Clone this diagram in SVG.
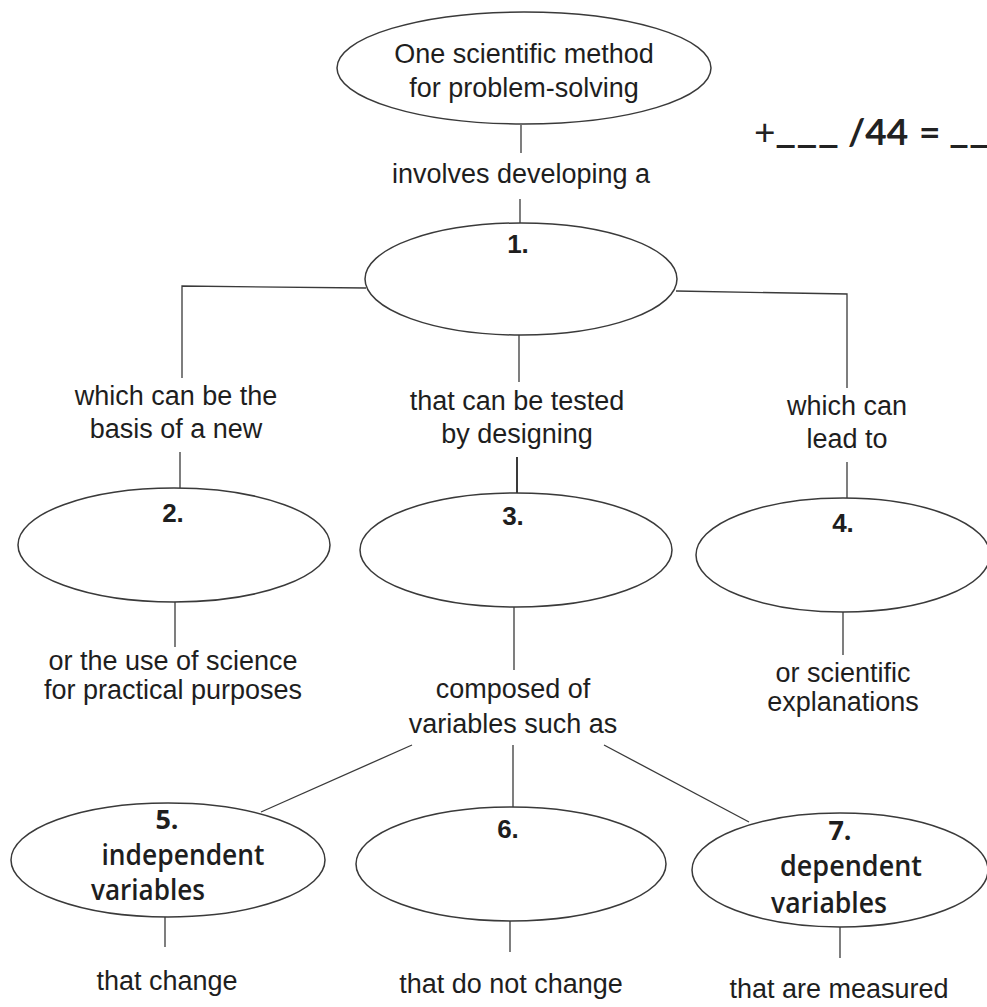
<svg xmlns="http://www.w3.org/2000/svg" width="987" height="1007" viewBox="0 0 987 1007">
<style>
  .bg { fill: #ffffff; }
  .node ellipse { fill: #ffffff; stroke: #3a3a3a; stroke-width: 1.5; }
  .conn line, .conn polyline { fill: none; stroke: #3a3a3a; stroke-width: 1.3; }
  .lbl { font-family: "Liberation Sans", Arial, sans-serif; font-size: 27px; fill: #1e1e1e; text-anchor: middle; }
  .num { font-family: "Liberation Sans", Arial, sans-serif; font-size: 26px; font-weight: bold; fill: #1e1e1e; text-anchor: middle; }
  .cal { font-family: "Open Sans", "Lato", sans-serif; font-size: 28px; font-weight: 600; fill: #1e1e1e; text-anchor: middle; }
  .calnum { font-family: "Open Sans", "Lato", sans-serif; font-size: 27px; font-weight: bold; fill: #1e1e1e; text-anchor: middle; }
  .score { font-family: "Lato", "Open Sans", sans-serif; font-size: 37px; font-weight: bold; fill: #222; }
  .plus { font-family: "Lato", "Open Sans", sans-serif; font-size: 37px; font-weight: normal; fill: #222; }
</style>
<rect class="bg" x="0" y="0" width="987" height="1007"/>

<g id="connectors" class="conn">
  <line x1="521" y1="125" x2="521" y2="153"/>
  <line x1="520" y1="199" x2="520" y2="223"/>
  <polyline points="366,288 182,286 182,378"/>
  <polyline points="676,291 847,294 847,388"/>
  <line x1="519" y1="335" x2="519" y2="382"/>
  <line x1="180" y1="452" x2="180" y2="488"/>
  <line x1="517" y1="457" x2="517" y2="493" style="stroke-width:2"/>
  <line x1="847" y1="462" x2="847" y2="498"/>
  <line x1="175" y1="602" x2="175" y2="647"/>
  <line x1="514" y1="607" x2="514" y2="670"/>
  <line x1="843" y1="612" x2="843" y2="655"/>
  <line x1="412" y1="745" x2="261" y2="812"/>
  <line x1="513" y1="745" x2="513" y2="807"/>
  <line x1="604" y1="745" x2="749" y2="822"/>
  <line x1="165" y1="917" x2="165" y2="947"/>
  <line x1="510" y1="921" x2="510" y2="952"/>
  <line x1="840" y1="927" x2="840" y2="958"/>
</g>

<g id="node-top" class="node">
  <ellipse cx="524" cy="68" rx="187" ry="56"/>
  <text class="lbl" x="524" y="63">One scientific method</text>
  <text class="lbl" x="524" y="97">for problem-solving</text>
</g>

<g id="score">
  <text class="plus" x="754" y="145">+</text>
  <text class="score" x="775" y="143" textLength="64" lengthAdjust="spacingAndGlyphs">___</text>
  <text class="score" x="848" y="145">/44</text>
  <text class="score" x="919" y="145">=</text>
  <text class="score" x="949" y="143" textLength="40" lengthAdjust="spacingAndGlyphs">__</text>
</g>

<g id="label-involves">
  <text class="lbl" x="521" y="183">involves developing a</text>
</g>

<g id="node-1" class="node">
  <ellipse cx="521" cy="279" rx="156" ry="56"/>
  <text class="num" x="518" y="253">1.</text>
</g>

<g id="label-basis">
  <text class="lbl" x="176" y="405">which can be the</text>
  <text class="lbl" x="176" y="438">basis of a new</text>
</g>
<g id="label-tested">
  <text class="lbl" x="517" y="410">that can be tested</text>
  <text class="lbl" x="517" y="443">by designing</text>
</g>
<g id="label-lead">
  <text class="lbl" x="847" y="415">which can</text>
  <text class="lbl" x="847" y="448">lead to</text>
</g>

<g id="node-2" class="node">
  <ellipse cx="174" cy="545" rx="156" ry="57"/>
  <text class="num" x="173" y="522">2.</text>
</g>
<g id="node-3" class="node">
  <ellipse cx="516" cy="550" rx="156" ry="57"/>
  <text class="num" x="513" y="525">3.</text>
</g>
<g id="node-4" class="node">
  <ellipse cx="843" cy="555" rx="147" ry="57"/>
  <text class="num" x="843" y="532">4.</text>
</g>

<g id="label-science">
  <text class="lbl" x="173" y="670">or the use of science</text>
  <text class="lbl" x="173" y="699">for practical purposes</text>
</g>
<g id="label-composed">
  <text class="lbl" x="513" y="698">composed of</text>
  <text class="lbl" x="513" y="733">variables such as</text>
</g>
<g id="label-explanations">
  <text class="lbl" x="843" y="682">or scientific</text>
  <text class="lbl" x="843" y="711">explanations</text>
</g>

<g id="node-5" class="node">
  <ellipse cx="168" cy="860" rx="157" ry="57"/>
  <text class="calnum" x="167" y="829">5.</text>
  <text class="cal" x="183" y="865" textLength="163" lengthAdjust="spacingAndGlyphs">independent</text>
  <text class="cal" x="148" y="900" textLength="114" lengthAdjust="spacingAndGlyphs">variables</text>
</g>
<g id="node-6" class="node">
  <ellipse cx="511" cy="864" rx="155" ry="57"/>
  <text class="num" x="508" y="838">6.</text>
</g>
<g id="node-7" class="node">
  <ellipse cx="840" cy="870" rx="148" ry="57"/>
  <text class="calnum" x="840" y="840">7.</text>
  <text class="cal" x="851" y="876" textLength="142" lengthAdjust="spacingAndGlyphs">dependent</text>
  <text class="cal" x="829" y="913" textLength="116" lengthAdjust="spacingAndGlyphs">variables</text>
</g>

<g id="label-bottom">
  <text class="lbl" x="167" y="990">that change</text>
  <text class="lbl" x="511" y="993">that do not change</text>
  <text class="lbl" x="839" y="998">that are measured</text>
</g>
</svg>
